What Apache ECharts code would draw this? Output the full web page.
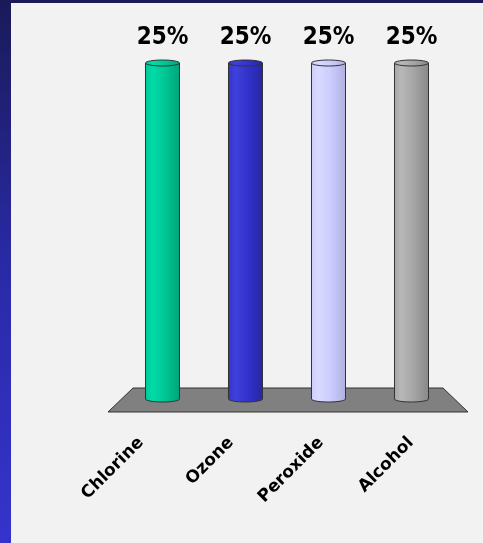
<!DOCTYPE html>
<html>
<head>
<meta charset="utf-8">
<script src="https://cdn.jsdelivr.net/npm/echarts@6/dist/echarts.min.js"></script>
<style>
html,body{margin:0;padding:0;}
#chart{width:483px;height:543px;}
</style>
</head>
<body>
<div id="chart"></div>
<script>
const categories = ['Chlorine', 'Ozone', 'Peroxide', 'Alcohol'];
const values = [25, 25, 25, 25];
const valueLabels = ['25%', '25%', '25%', '25%'];
const barColors = [
  ['#00dca8', '#00c896', '#00a47a'],
  ['#4040dc', '#3333cc', '#2626a4'],
  ['#dadaff', '#ccccff', '#b0b0e0'],
  ['#b8b8b8', '#a6a6a6', '#888888']
];

const chart = echarts.init(document.getElementById('chart'));

function grad(c) {
  return new echarts.graphic.LinearGradient(0, 0, 1, 0, [
    {offset: 0, color: c[1]},
    {offset: 0.2, color: c[0]},
    {offset: 0.55, color: c[1]},
    {offset: 1, color: c[2]}
  ]);
}

const option = {
  animation: false,
  backgroundColor: new echarts.graphic.LinearGradient(0, 0, 0, 1, [
    {offset: 0, color: '#1a1a58'},
    {offset: 0.5, color: '#2a2aa8'},
    {offset: 1, color: '#3434cc'}
  ]),
  graphic: [
    {type: 'rect', z: -10, shape: {x: 11, y: 3, width: 472, height: 540}, style: {fill: '#f2f2f2'}},
    {type: 'polygon', z: -5, shape: {points: [[133, 388], [443, 388], [468, 412], [108, 412]]},
     style: {fill: '#808080', stroke: '#333333', lineWidth: 1}}
  ],
  grid: [
    {left: 121, width: 332, top: 63, height: 336},
    {left: 96, width: 360, top: 20, height: 412}
  ],
  xAxis: [
    {type: 'category', gridIndex: 0, data: categories, show: false},
    {type: 'category', gridIndex: 1, data: categories,
     axisLine: {show: false}, axisTick: {show: false},
     axisLabel: {rotate: 45, margin: 8, interval: 0, color: '#000',
       fontFamily: 'DejaVu Sans', fontWeight: 'bold', fontSize: 17}}
  ],
  yAxis: [
    {type: 'value', gridIndex: 0, min: 0, max: 25, show: false},
    {type: 'value', gridIndex: 1, min: 0, max: 25, show: false}
  ],
  series: [{
    type: 'custom',
    xAxisIndex: 0, yAxisIndex: 0,
    data: values.map((v, i) => [i, v]),
    renderItem: function (params, api) {
      const i = api.value(0);
      const top = api.coord([i, api.value(1)]);
      const base = api.coord([i, 0]);
      const w = api.size([1, 0])[0] * 0.41;
      const rx = w / 2, ry = 3;
      const c = barColors[i];
      const x0 = top[0] - rx;
      return {
        type: 'group',
        children: [
          {type: 'ellipse', shape: {cx: base[0], cy: base[1], rx: rx, ry: ry},
           style: {fill: grad(c), stroke: '#333', lineWidth: 1}},
          {type: 'rect', shape: {x: x0, y: top[1], width: w, height: base[1] - top[1]},
           style: {fill: grad(c)}},
          {type: 'line', shape: {x1: x0, y1: top[1], x2: x0, y2: base[1]},
           style: {stroke: '#333', lineWidth: 1}},
          {type: 'line', shape: {x1: x0 + w, y1: top[1], x2: x0 + w, y2: base[1]},
           style: {stroke: '#333', lineWidth: 1}},
          {type: 'ellipse', shape: {cx: top[0], cy: top[1], rx: rx, ry: ry},
           style: {fill: grad(c), stroke: '#333', lineWidth: 1}},
          {type: 'text', x: top[0], y: top[1] - 25,
           style: {text: valueLabels[i], fill: '#000', align: 'center', verticalAlign: 'middle',
             font: 'bold 24px "DejaVu Sans Condensed"'}}
        ]
      };
    }
  }]
};
chart.setOption(option);
</script>
</body>
</html>
